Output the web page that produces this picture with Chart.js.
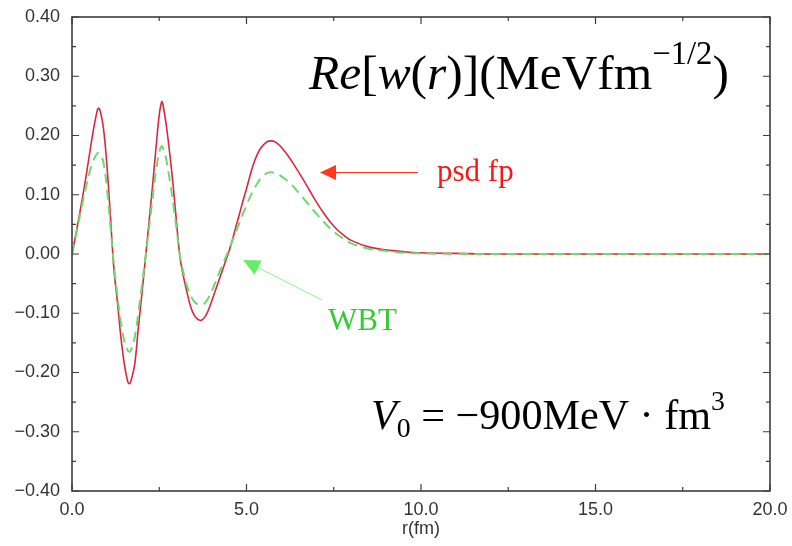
<!DOCTYPE html>
<html><head><meta charset="utf-8">
<script src="https://cdn.jsdelivr.net/npm/chart.js@4"></script>
<style>html,body{margin:0;padding:0;background:#fff}canvas{display:block}</style>
</head><body>
<canvas id="c" width="792" height="546"></canvas>
<script>
// ---- data ----
const rValues = [0,0.1,0.2,0.3,0.4,0.5,0.6,0.7,0.75,0.8,0.9,1.0,1.1,1.2,1.3,1.4,1.5,1.6,1.65,1.7,1.8,1.9,2.0,2.1,2.2,2.3,2.4,2.5,2.57,
  2.6,2.7,2.8,2.9,3.0,3.1,3.2,3.3,3.4,3.5,3.6,3.7,3.8,3.9,4.0,4.1,4.2,4.3,4.4,4.5,4.6,4.7,4.8,4.9,5.0,5.1,5.2,5.3,5.4,5.5,5.6,5.7,5.8,5.9,6.0,
  6.2,6.4,6.6,6.8,7.0,7.2,7.4,7.6,7.8,8.0,8.5,9.0,9.5,10,11,12,14,16,18,20];
const psdFp = [0,0.03,0.062,0.095,0.13,0.168,0.205,0.236,0.246,0.243,0.213,0.15,0.065,-0.025,-0.08,-0.14,-0.186,-0.216,-0.219,
  -0.212,-0.185,-0.125,-0.069,-0.01,0.05,0.11,0.175,0.235,0.257,
  0.254,0.218,0.17,0.115,0.05,-0.008,-0.04,-0.066,-0.089,-0.103,-0.11,-0.112,-0.107,-0.096,-0.08,-0.063,-0.046,-0.029,-0.012,0.005,
  0.025,0.047,0.068,0.09,0.11,0.132,0.152,0.167,0.178,0.185,0.19,0.191,0.19,0.186,0.18,
  0.165,0.147,0.128,0.108,0.088,0.07,0.054,0.041,0.031,0.023,0.012,0.007,0.004,0.002,0.001,0,0,0,0,0];
const wbt = [0,0.028,0.057,0.086,0.113,0.137,0.156,0.168,0.171,0.169,0.155,0.112,0.048,-0.018,-0.07,-0.115,-0.147,-0.163,-0.165,
  -0.161,-0.14,-0.1,-0.055,-0.008,0.04,0.09,0.138,0.172,0.182,
  0.18,0.16,0.125,0.085,0.04,-0.006,-0.033,-0.055,-0.07,-0.08,-0.085,-0.086,-0.083,-0.075,-0.063,-0.049,-0.034,-0.02,-0.006,0.008,
  0.023,0.038,0.053,0.068,0.082,0.096,0.108,0.118,0.127,0.133,0.137,0.138,0.137,0.135,0.131,
  0.122,0.11,0.096,0.082,0.068,0.055,0.043,0.033,0.025,0.018,0.009,0.005,0.002,0.001,0,0,0,0,0,0];
const xRange = [0, 20];
const yRange = [-0.4, 0.4];
const xTickStep = 5, yTickStep = 0.1;
const xMinorStep = 2.5, yMinorStep = 0.05;
const seriesNames = ['psd fp', 'WBT'];
const xTitle = 'r(fm)';

const AXIS_FONT = '"Liberation Sans", Arial, Helvetica, sans-serif';
const SERIF = '"Liberation Serif", "Times New Roman", serif';

function drawRuns(ctx, runs, x, y, targetW, color, supRaise) {
  const measure = (size) => {
    let w = 0;
    for (const r of runs) {
      const s = r.script ? size * 0.66 : size;
      ctx.font = (r.it ? 'italic ' : '') + s + 'px ' + SERIF;
      w += ctx.measureText(r.t).width + (r.gap || 0) * size;
    }
    return w;
  };
  const size = 100 * targetW / measure(100);
  ctx.fillStyle = color; ctx.textBaseline = 'alphabetic'; ctx.textAlign = 'left';
  for (const r of runs) {
    const s = r.script ? size * 0.66 : size;
    const dy = r.script === 'sup' ? -size * supRaise : r.script === 'sub' ? size * 0.2 : 0;
    ctx.font = (r.it ? 'italic ' : '') + s + 'px ' + SERIF;
    ctx.fillText(r.t, x, y + dy);
    x += ctx.measureText(r.t).width + (r.gap || 0) * size;
  }
}

function arrow(ctx, tail, tip, color, headColor, lw, headLen, headHalf) {
  const dx = tip[0] - tail[0], dy = tip[1] - tail[1];
  const L = Math.hypot(dx, dy), ux = dx / L, uy = dy / L;
  const bx = tip[0] - ux * headLen, by = tip[1] - uy * headLen;
  ctx.strokeStyle = color; ctx.lineWidth = lw;
  ctx.beginPath(); ctx.moveTo(tail[0], tail[1]); ctx.lineTo(bx, by); ctx.stroke();
  ctx.fillStyle = headColor;
  ctx.beginPath();
  ctx.moveTo(tip[0], tip[1]);
  ctx.lineTo(bx - uy * headHalf, by + ux * headHalf);
  ctx.lineTo(bx + uy * headHalf, by - ux * headHalf);
  ctx.closePath(); ctx.fill();
}

const framePlugin = {
  id: 'frame',
  afterDatasetsDraw(chart) {
    const ctx = chart.ctx, a = chart.chartArea;
    const xs = chart.scales.x, ys = chart.scales.y;
    ctx.save();
    ctx.strokeStyle = '#3c3c3c'; ctx.lineWidth = 1.6;
    ctx.strokeRect(a.left, a.top, a.right - a.left, a.bottom - a.top);
    ctx.lineWidth = 1.2;
    ctx.beginPath();
    for (let i = 0; i <= Math.round((xRange[1] - xRange[0]) / xMinorStep); i++) {
      const v = xRange[0] + i * xMinorStep;
      const px = xs.getPixelForValue(v);
      const len = i % 2 === 0 ? 7 : 4;
      ctx.moveTo(px, a.bottom); ctx.lineTo(px, a.bottom - len);
      ctx.moveTo(px, a.top); ctx.lineTo(px, a.top + len);
    }
    for (let i = 0; i <= Math.round((yRange[1] - yRange[0]) / yMinorStep); i++) {
      const v = yRange[0] + i * yMinorStep;
      const py = ys.getPixelForValue(v);
      const len = i % 2 === 0 ? 7 : 4;
      ctx.moveTo(a.left, py); ctx.lineTo(a.left + len, py);
      ctx.moveTo(a.right, py); ctx.lineTo(a.right - len, py);
    }
    ctx.stroke();
    ctx.restore();
  },
  afterDraw(chart) {
    const ctx = chart.ctx;
    ctx.save();
    drawRuns(ctx, [
      {t: 'Re', it: 1}, {t: '['}, {t: 'w', it: 1}, {t: '('}, {t: 'r', it: 1}, {t: ')](MeVfm'},
      {t: '\u22121/2', script: 'sup'}, {t: ')'}
    ], 309, 89, 420, '#000', 0.5);
    drawRuns(ctx, [
      {t: 'V', it: 1}, {t: '0', script: 'sub'}, {t: ' = \u2212900MeV \u00b7 fm'}, {t: '3', script: 'sup'}
    ], 371, 429, 354, '#000', 0.45);
    ctx.textAlign = 'left'; ctx.textBaseline = 'alphabetic';
    ctx.font = '31px ' + SERIF;
    ctx.fillStyle = '#f41a14';
    ctx.fillText(seriesNames[0], 437, 181);
    ctx.fillStyle = '#33cc33';
    ctx.fillText(seriesNames[1], 328, 330);
    arrow(ctx, [418, 172.5], [320, 172.5], '#ff3a1a', '#ff3a1a', 1.2, 16, 7.5);
    arrow(ctx, [322, 300], [243, 260], '#8cf08c', '#66ee66', 1, 17, 8);
    ctx.restore();
  }
};

new Chart(document.getElementById('c'), {
  type: 'line',
  data: {
    datasets: [
      {
        label: seriesNames[0],
        data: rValues.map((r, i) => ({x: r, y: psdFp[i]})),
        borderColor: '#d8283f', borderWidth: 1.6, pointRadius: 0,
        tension: 0.35, fill: false, order: 1
      },
      {
        label: seriesNames[1],
        data: rValues.map((r, i) => ({x: r, y: wbt[i]})),
        borderColor: '#70d870', borderWidth: 2, borderDash: [10, 6], pointRadius: 0,
        tension: 0.35, fill: false, order: 0
      }
    ]
  },
  options: {
    responsive: false, animation: false, devicePixelRatio: 1,
    layout: {padding: {top: 17, right: 22, left: 0, bottom: 0}},
    plugins: {legend: {display: false}, tooltip: {enabled: false}},
    scales: {
      x: {
        type: 'linear', min: xRange[0], max: xRange[1],
        grid: {display: false, drawTicks: false}, border: {display: false},
        ticks: {stepSize: xTickStep, padding: 8, color: '#333', font: {family: AXIS_FONT, size: 18},
          callback: v => v.toFixed(1), maxRotation: 0},
        title: {display: true, text: xTitle, color: '#333', font: {family: AXIS_FONT, size: 18}, padding: {top: 0, bottom: 6}},
        afterFit: s => { s.height = 55; s.paddingLeft = 0; s.paddingRight = 0; }
      },
      y: {
        type: 'linear', min: yRange[0], max: yRange[1],
        grid: {display: false, drawTicks: false}, border: {display: false},
        ticks: {stepSize: yTickStep, padding: 12, color: '#333', font: {family: AXIS_FONT, size: 18},
          callback: v => (v < -1e-9 ? '\u2212' : '') + Math.abs(v).toFixed(2)},
        afterFit: s => { s.width = 72; s.paddingTop = 0; s.paddingBottom = 0; }
      }
    }
  },
  plugins: [framePlugin]
});
</script>
</body></html>
